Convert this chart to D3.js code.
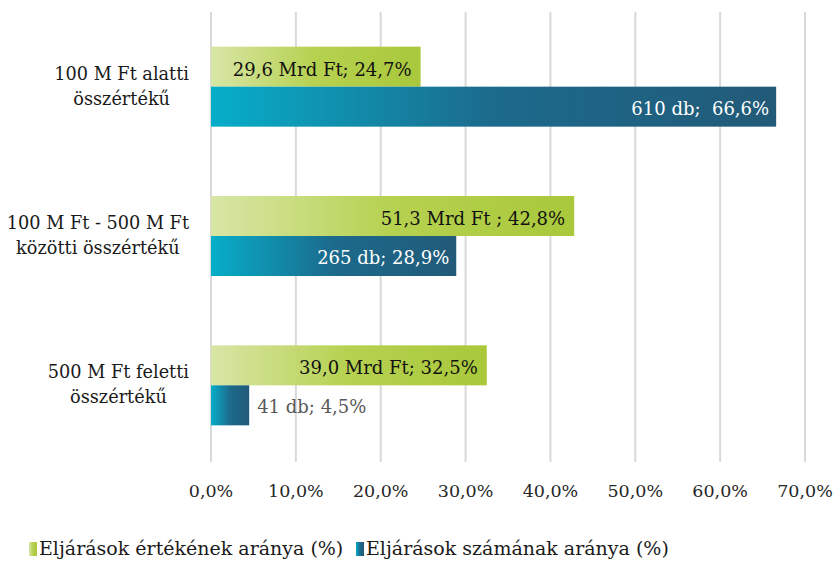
<!DOCTYPE html>
<html>
<head>
<meta charset="utf-8">
<script src="https://cdn.jsdelivr.net/npm/d3@7"></script>
<style>
  body { margin: 0; background: #fff; }
</style>
</head>
<body>
<div id="chart"></div>
<script>
// Data
const categories = [
  ['100 M Ft alatti', 'összértékű'],
  ['100 M Ft - 500 M Ft', 'közötti összértékű'],
  ['500 M Ft feletti', 'összértékű']
];
const valueShare = [24.7, 42.8, 32.5];
const countShare = [66.6, 28.9, 4.5];
const valueLabels = ['29,6 Mrd Ft; 24,7%', '51,3 Mrd Ft ; 42,8%', '39,0 Mrd Ft; 32,5%'];
const countLabels = ['610 db;  66,6%', '265 db; 28,9%', '41 db; 4,5%'];
const ticks = [0, 10, 20, 30, 40, 50, 60, 70];
const seriesNames = ['Eljárások értékének aránya (%)', 'Eljárások számának aránya (%)'];

const FONT = "'DejaVu Serif', serif";

const width = 834, height = 561;
const margin = { top: 12, right: 29, bottom: 101, left: 211 };

const svg = d3.select('#chart').append('svg')
  .attr('width', width)
  .attr('height', height)
  .attr('font-family', FONT);

const defs = svg.append('defs');
function grad(id, c0, c1, c2) {
  const g = defs.append('linearGradient').attr('id', id)
    .attr('x1', '0%').attr('x2', '100%').attr('y1', '0%').attr('y2', '0%');
  g.append('stop').attr('offset', '0%').attr('stop-color', c0);
  g.append('stop').attr('offset', '50%').attr('stop-color', c1);
  g.append('stop').attr('offset', '100%').attr('stop-color', c2);
}
grad('gGreen', '#d8e6a6', '#b6d150', '#a9c83b');
grad('gBlue', '#06aec9', '#1c6a8c', '#225a78');

const innerW = width - margin.left - margin.right;
const innerH = height - margin.top - margin.bottom;

const x = d3.scaleLinear().domain([0, 70]).range([0, innerW]);
const y = d3.scaleBand().domain(d3.range(categories.length)).range([0, innerH]);
const barH = 40;

const g = svg.append('g').attr('transform', `translate(${margin.left},${margin.top})`);

// Gridlines
g.selectAll('.grid').data(ticks).join('line')
  .attr('x1', d => x(d)).attr('x2', d => x(d))
  .attr('y1', 0).attr('y2', innerH + 2)
  .attr('stroke', '#d9d9d9').attr('stroke-width', 2);

// Axis labels
g.selectAll('.tick-label').data(ticks).join('text')
  .attr('x', d => x(d)).attr('y', innerH + 37)
  .attr('text-anchor', 'middle')
  .attr('font-size', 17.5).attr('fill', '#262626')
  .text(d => d3.format('.1f')(d).replace('.', ',') + '%');

const mid = i => y(i) + y.bandwidth() / 2;

// Category labels: block right-aligned near axis, lines centred within the block
categories.forEach((lines, i) => {
  const t = g.append('text')
    .attr('text-anchor', 'middle')
    .attr('font-size', 17.7).attr('fill', '#1a1a1a');
  const spans = lines.map((s, j) => t.append('tspan')
    .attr('y', mid(i) - 7 + j * 25)
    .text(s));
  const maxW = d3.max(spans, s => s.node().getComputedTextLength());
  spans.forEach(s => s.attr('x', -22 - maxW / 2));
});

// Value bars
g.selectAll('.bar-v').data(valueShare).join('rect')
  .attr('x', 0).attr('y', (d, i) => mid(i) - barH)
  .attr('width', d => x(d)).attr('height', barH)
  .attr('fill', 'url(#gGreen)');

// Count bars
g.selectAll('.bar-c').data(countShare).join('rect')
  .attr('x', 0).attr('y', (d, i) => mid(i))
  .attr('width', d => x(d)).attr('height', barH)
  .attr('fill', 'url(#gBlue)');

// Value labels
g.selectAll('.lab-v').data(valueShare).join('text')
  .attr('x', d => x(d) - 9).attr('y', (d, i) => mid(i) - barH / 2 + 9)
  .attr('text-anchor', 'end')
  .attr('font-size', 18).attr('fill', '#111')
  .style('white-space', 'pre')
  .text((d, i) => valueLabels[i]);

// Count labels
g.selectAll('.lab-c').data(countShare).join('text')
  .attr('x', d => d > 10 ? x(d) - 7 : x(d) + 8)
  .attr('y', (d, i) => mid(i) + barH / 2 + 8)
  .attr('text-anchor', d => d > 10 ? 'end' : 'start')
  .attr('font-size', 18)
  .attr('fill', d => d > 10 ? '#fff' : '#595959')
  .style('white-space', 'pre')
  .text((d, i) => countLabels[i]);

// Legend
const legend = svg.append('g').attr('transform', 'translate(0,549)');
const legendX = [29, 356];
const legendFill = ['url(#gGreen)', 'url(#gBlue)'];
seriesNames.forEach((name, i) => {
  legend.append('rect')
    .attr('x', legendX[i]).attr('y', -7)
    .attr('width', 8).attr('height', 14)
    .attr('fill', legendFill[i]);
  legend.append('text')
    .attr('x', legendX[i] + 10).attr('y', 6)
    .attr('font-size', 19).attr('fill', '#1a1a1a')
    .text(name);
});
</script>
</body>
</html>
